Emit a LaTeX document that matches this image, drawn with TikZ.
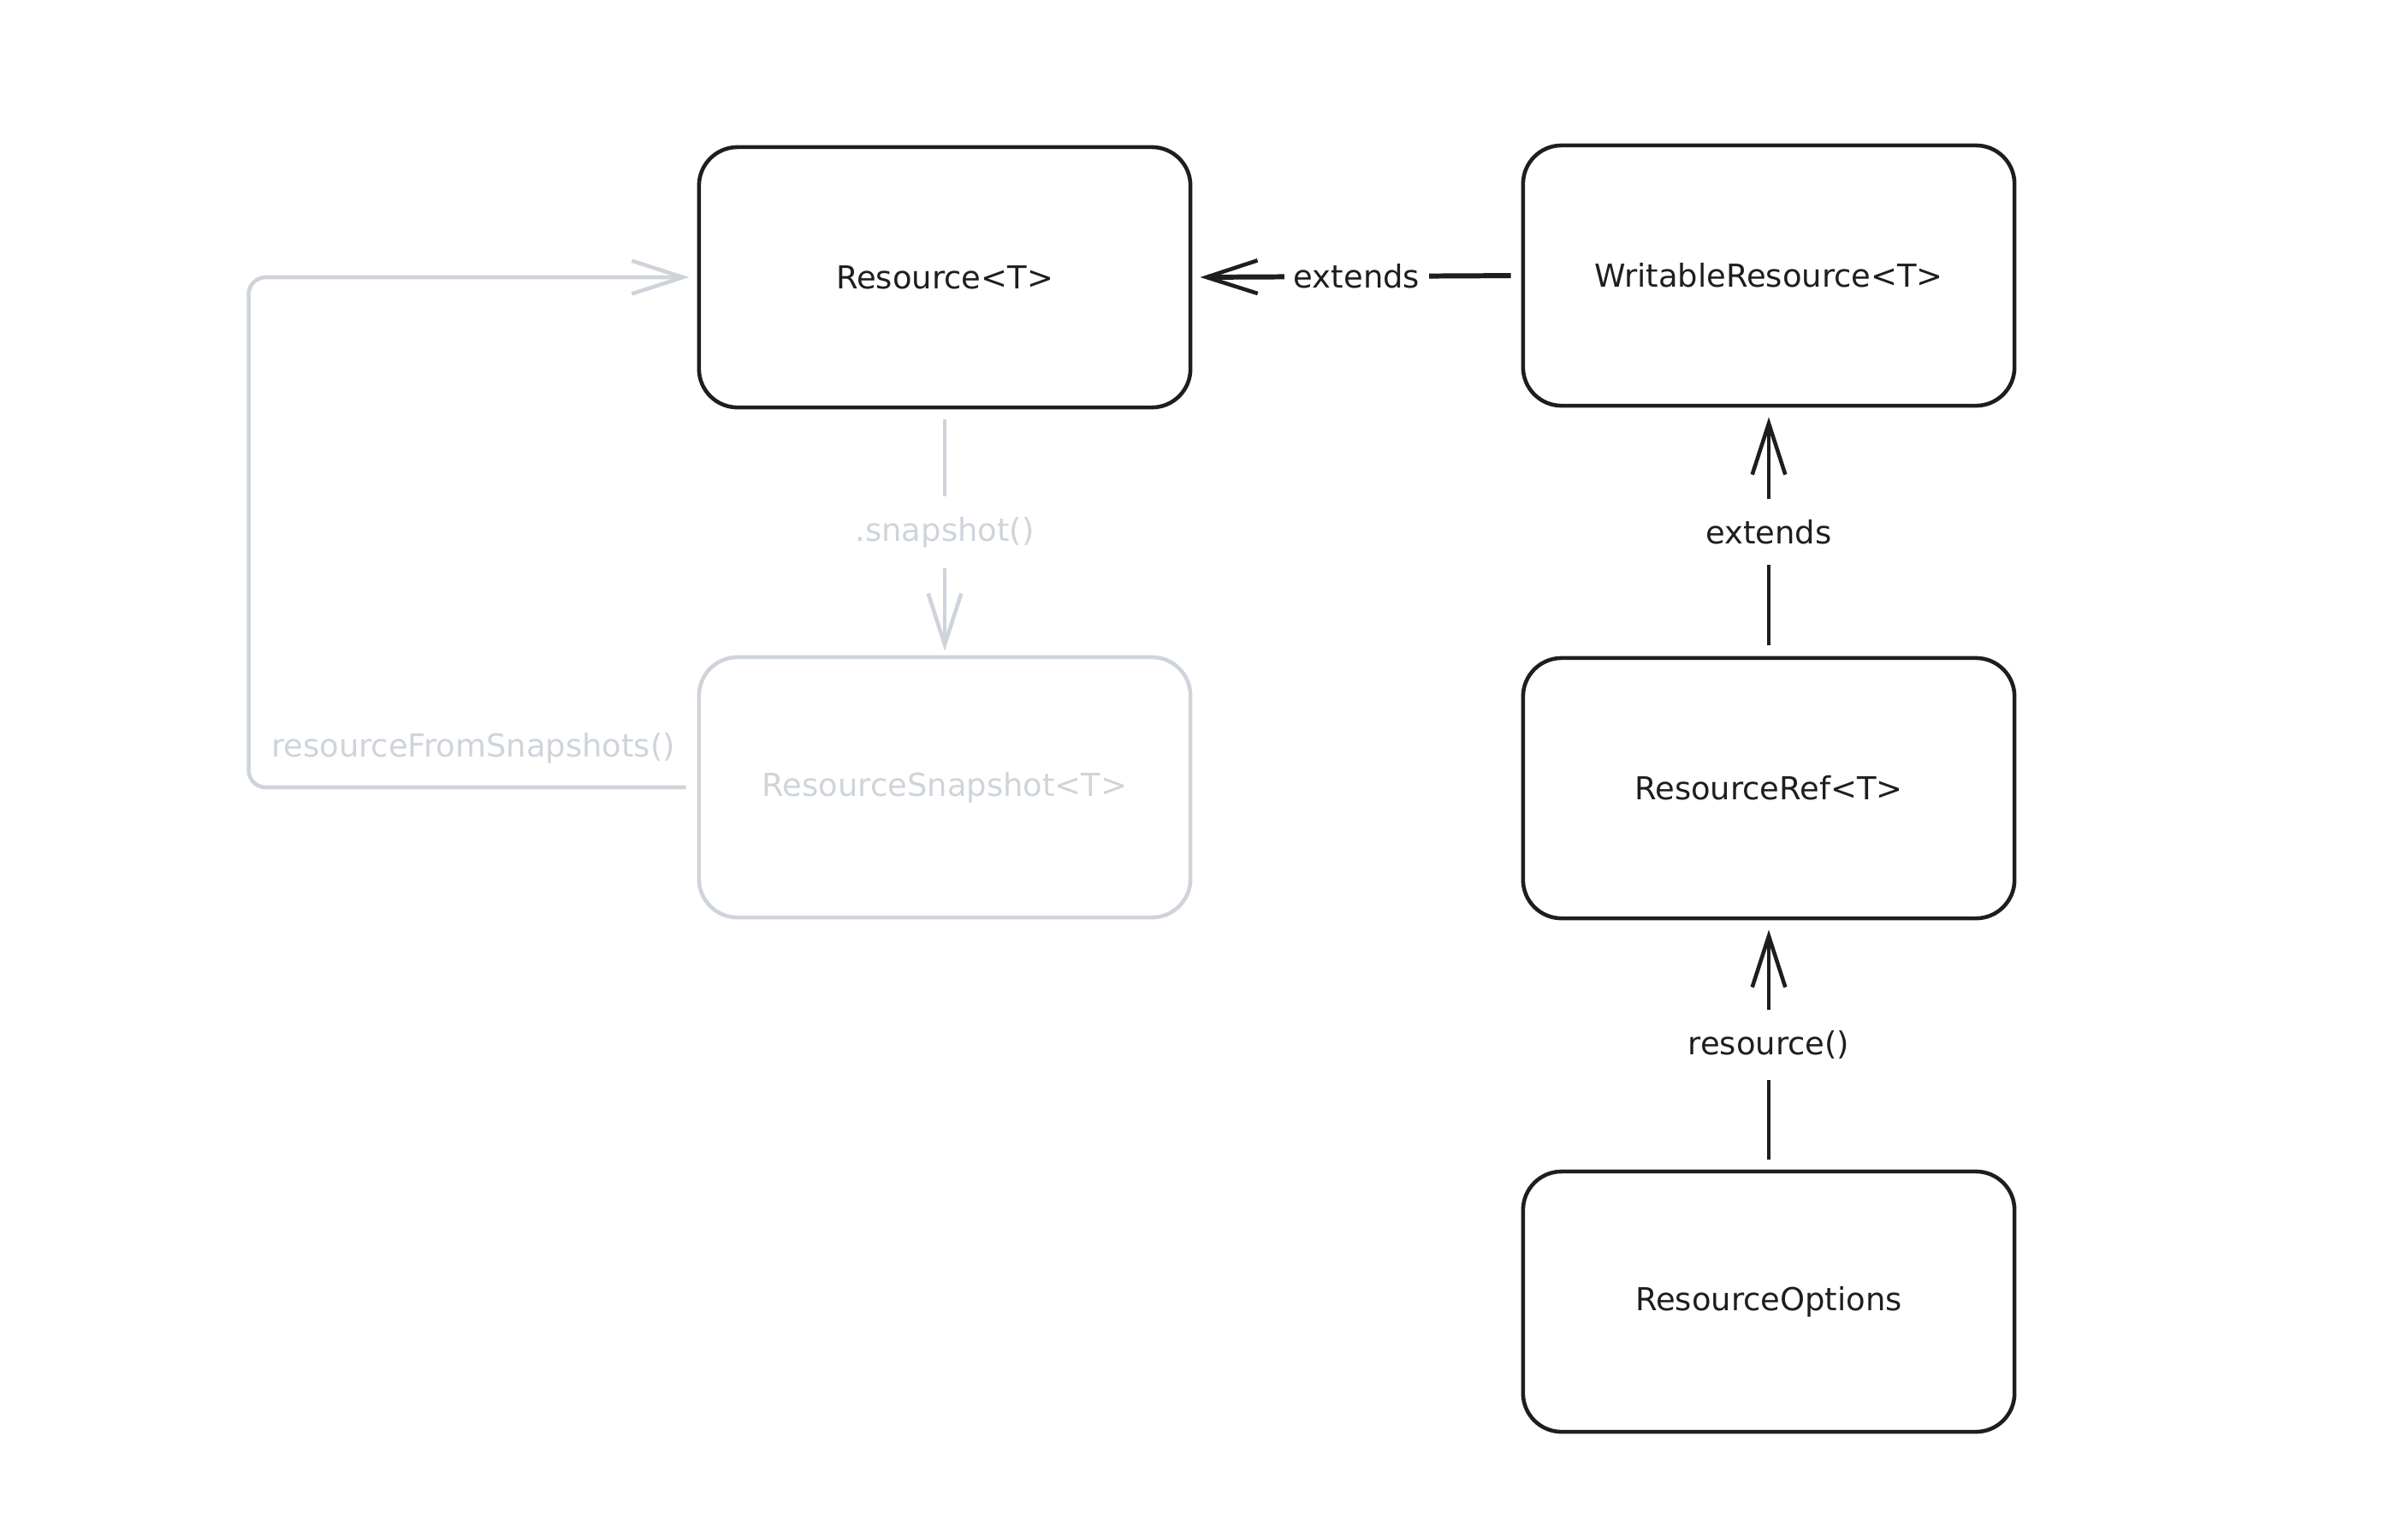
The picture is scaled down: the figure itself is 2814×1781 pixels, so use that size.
\documentclass[tikz,border=0pt]{standalone}
\usepackage{fontspec}
\setmainfont{DejaVu Sans}
\usetikzlibrary{arrows.meta}
\definecolor{ink}{HTML}{1E1E1E}
\definecolor{faint}{HTML}{CED4DA}
\tikzset{
  box/.style={draw=ink, line width=1.3pt, rounded corners=0.45cm, minimum width=5.74cm, minimum height=3.04cm, text=ink, font=\fontsize{10.5}{12}\selectfont, inner sep=0pt},
  fbox/.style={box, draw=faint, text=faint},
  arr/.style={draw=ink, line width=1.3pt, -{Straight Barb[length=17pt,width=11pt,line width=1.3pt]}},
  farr/.style={arr, draw=faint},
  lab/.style={fill=white, text=ink, font=\fontsize{10.5}{12}\selectfont, inner sep=7pt},
  flab/.style={lab, text=faint},
}
\begin{document}
\begin{tikzpicture}[x=0.01cm, y=-0.01cm]
\useasboundingbox (0,0) rectangle (2814,1781);
\node[box] (res) at (1104,324) {Resource<T>};
\node[box] (wr) at (2067,322) {WritableResource<T>};
\node[fbox] (snap) at (1104,920) {ResourceSnapshot<T>};
\node[box] (ref) at (2067,921) {ResourceRef<T>};
\node[box] (opt) at (2067,1521) {ResourceOptions};

\draw[arr, line width=1.7pt, shorten <=0.12cm, shorten >=0.09cm] (wr.west) -- node[lab, inner sep=3pt] {extends} (res.east);
\draw[arr, shorten <=0.13cm, shorten >=0.11cm] (ref.north) -- node[lab] {extends} (wr.south);
\draw[arr, shorten <=0.12cm, shorten >=0.11cm] (opt.north) -- node[lab] {resource()} (ref.south);
\draw[farr, shorten <=0.12cm, shorten >=0.05cm] (res.south) -- node[flab] {.snapshot()} (snap.north);
\draw[farr, rounded corners=0.2cm] ([xshift=-0.13cm]snap.west) -- ++(-511,0) coordinate (lc) |- ([xshift=-0.09cm]res.west);
\node[flab, fill=none, inner sep=0pt] (lfs) at (553,874) {resourceFromSnapshots()};
\end{tikzpicture}
\end{document}
